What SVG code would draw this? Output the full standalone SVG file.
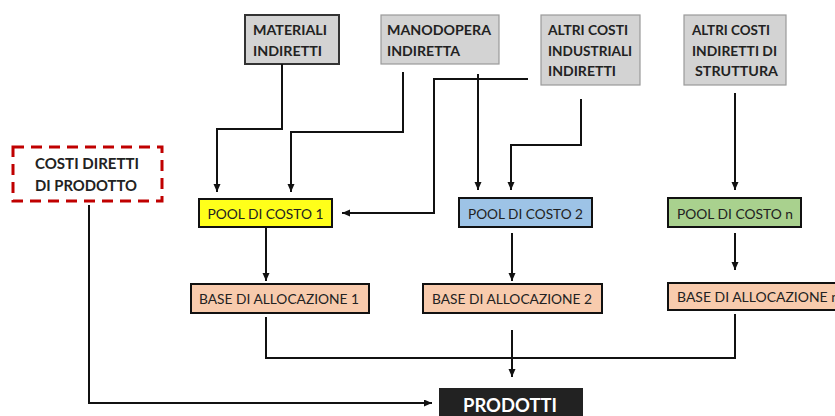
<svg xmlns="http://www.w3.org/2000/svg" width="835" height="416" viewBox="0 0 835 416">
  <defs>
    <marker id="arrow" markerUnits="userSpaceOnUse" markerWidth="9" markerHeight="8" refX="8" refY="3.5" orient="auto">
      <path d="M0,0 L8,3.5 L0,7 z" fill="#111"/>
    </marker>
    <style>
      .src { fill: #d3d3d3; stroke: #9a9a9a; stroke-width: 1.2; }
      .src-dark { fill: #d3d3d3; stroke: #333; stroke-width: 2; }
      .src-t { font-family: Lato, "Liberation Sans", sans-serif; font-weight: bold; font-size: 14px; fill: #222; }
      .box { stroke: #111; stroke-width: 2; }
      .pool-t { font-family: Lato, "Liberation Sans", sans-serif; font-size: 14px; fill: #222; text-anchor: middle; }
      .base { fill: #f8cbad; }
      .wire { fill: none; stroke: #111; stroke-width: 2; }
      .arr { marker-end: url(#arrow); }
    </style>
  </defs>
  <rect width="835" height="416" fill="#fff"/>

  <!-- cost sources -->
  <g id="materiali-indiretti">
    <rect class="src-dark" x="245" y="15" width="94" height="49"/>
    <text class="src-t" x="253" y="35" textLength="74" lengthAdjust="spacingAndGlyphs">MATERIALI</text>
    <text class="src-t" x="253" y="56" textLength="69" lengthAdjust="spacingAndGlyphs">INDIRETTI</text>
  </g>
  <g id="manodopera-indiretta">
    <rect class="src" x="381" y="15" width="118" height="49"/>
    <text class="src-t" x="387" y="35" textLength="104" lengthAdjust="spacingAndGlyphs">MANODOPERA</text>
    <text class="src-t" x="387" y="56" textLength="73" lengthAdjust="spacingAndGlyphs">INDIRETTA</text>
  </g>
  <g id="altri-costi-industriali">
    <rect class="src" x="541" y="15" width="99" height="70"/>
    <text class="src-t" x="548" y="35" textLength="80" lengthAdjust="spacingAndGlyphs">ALTRI COSTI</text>
    <text class="src-t" x="548" y="56" textLength="84" lengthAdjust="spacingAndGlyphs">INDUSTRIALI</text>
    <text class="src-t" x="548" y="76" textLength="68" lengthAdjust="spacingAndGlyphs">INDIRETTI</text>
  </g>
  <g id="altri-costi-struttura">
    <rect class="src" x="684" y="15" width="102" height="70"/>
    <text class="src-t" x="692" y="35" textLength="78" lengthAdjust="spacingAndGlyphs">ALTRI COSTI</text>
    <text class="src-t" x="692" y="56" textLength="85" lengthAdjust="spacingAndGlyphs">INDIRETTI DI</text>
    <text class="src-t" x="695" y="76" textLength="83" lengthAdjust="spacingAndGlyphs">STRUTTURA</text>
  </g>

  <g id="costi-diretti">
    <rect x="13" y="147" width="149" height="54" fill="#fff" stroke="#c00000" stroke-width="3" stroke-dasharray="11 7"/>
    <text font-family="Lato, 'Liberation Sans', sans-serif" font-weight="bold" font-size="15" fill="#222" x="35" y="169" textLength="104" lengthAdjust="spacingAndGlyphs">COSTI DIRETTI</text>
    <text font-family="Lato, 'Liberation Sans', sans-serif" font-weight="bold" font-size="15" fill="#222" x="35" y="191" textLength="102" lengthAdjust="spacingAndGlyphs">DI PRODOTTO</text>
  </g>

  <!-- cost pools -->
  <g id="pool-1">
    <rect class="box" x="199" y="199" width="133" height="28" fill="#ffff1a"/>
    <text class="pool-t" x="265.5" y="219" textLength="116" lengthAdjust="spacingAndGlyphs">POOL DI COSTO 1</text>
  </g>
  <g id="pool-2">
    <rect class="box" x="459" y="198" width="133" height="29" fill="#9dc3e6"/>
    <text class="pool-t" x="525.5" y="219" textLength="115" lengthAdjust="spacingAndGlyphs">POOL DI COSTO 2</text>
  </g>
  <g id="pool-n">
    <rect class="box" x="668" y="198" width="133" height="29" fill="#a9d18e"/>
    <text class="pool-t" x="735" y="219" textLength="116" lengthAdjust="spacingAndGlyphs">POOL DI COSTO n</text>
  </g>

  <!-- allocation bases -->
  <g id="base-1">
    <rect class="box base" x="191" y="284" width="178" height="29"/>
    <text class="pool-t" x="279" y="304" textLength="160" lengthAdjust="spacingAndGlyphs">BASE DI ALLOCAZIONE 1</text>
  </g>
  <g id="base-2">
    <rect class="box base" x="423" y="284" width="179" height="29"/>
    <text class="pool-t" x="512" y="304" textLength="160" lengthAdjust="spacingAndGlyphs">BASE DI ALLOCAZIONE 2</text>
  </g>
  <g id="base-n">
    <rect class="box base" x="668" y="283" width="180" height="27"/>
    <text class="pool-t" x="677" y="302" text-anchor="start" style="text-anchor:start" textLength="162" lengthAdjust="spacingAndGlyphs">BASE DI ALLOCAZIONE n</text>
  </g>

  <g id="prodotti">
    <rect x="439" y="388" width="144" height="34" fill="#222"/>
    <text font-family="Lato, 'Liberation Sans', sans-serif" font-weight="bold" font-size="19" fill="#fff" x="510" y="412" text-anchor="middle" textLength="94" lengthAdjust="spacingAndGlyphs">PRODOTTI</text>
  </g>

  <!-- connectors -->
  <g id="connectors">
    <path class="wire arr" d="M282,64 V129 H217 V192"/>
    <path class="wire arr" d="M403,72 V132 H291 V192"/>
    <path class="wire arr" d="M528,79 H434 V213 H342"/>
    <path class="wire arr" d="M478,74 V190"/>
    <path class="wire arr" d="M581,99 V145 H511 V190"/>
    <path class="wire arr" d="M735,93 V190"/>
    <path class="wire arr" d="M266,228 V281"/>
    <path class="wire arr" d="M512,233 V281"/>
    <path class="wire arr" d="M735,233 V270"/>
    <path class="wire" d="M266,317 V358 H735 V314"/>
    <path class="wire arr" d="M512,330 V377"/>
    <path class="wire arr" d="M89,205 V403 H432"/>
  </g>
</svg>
